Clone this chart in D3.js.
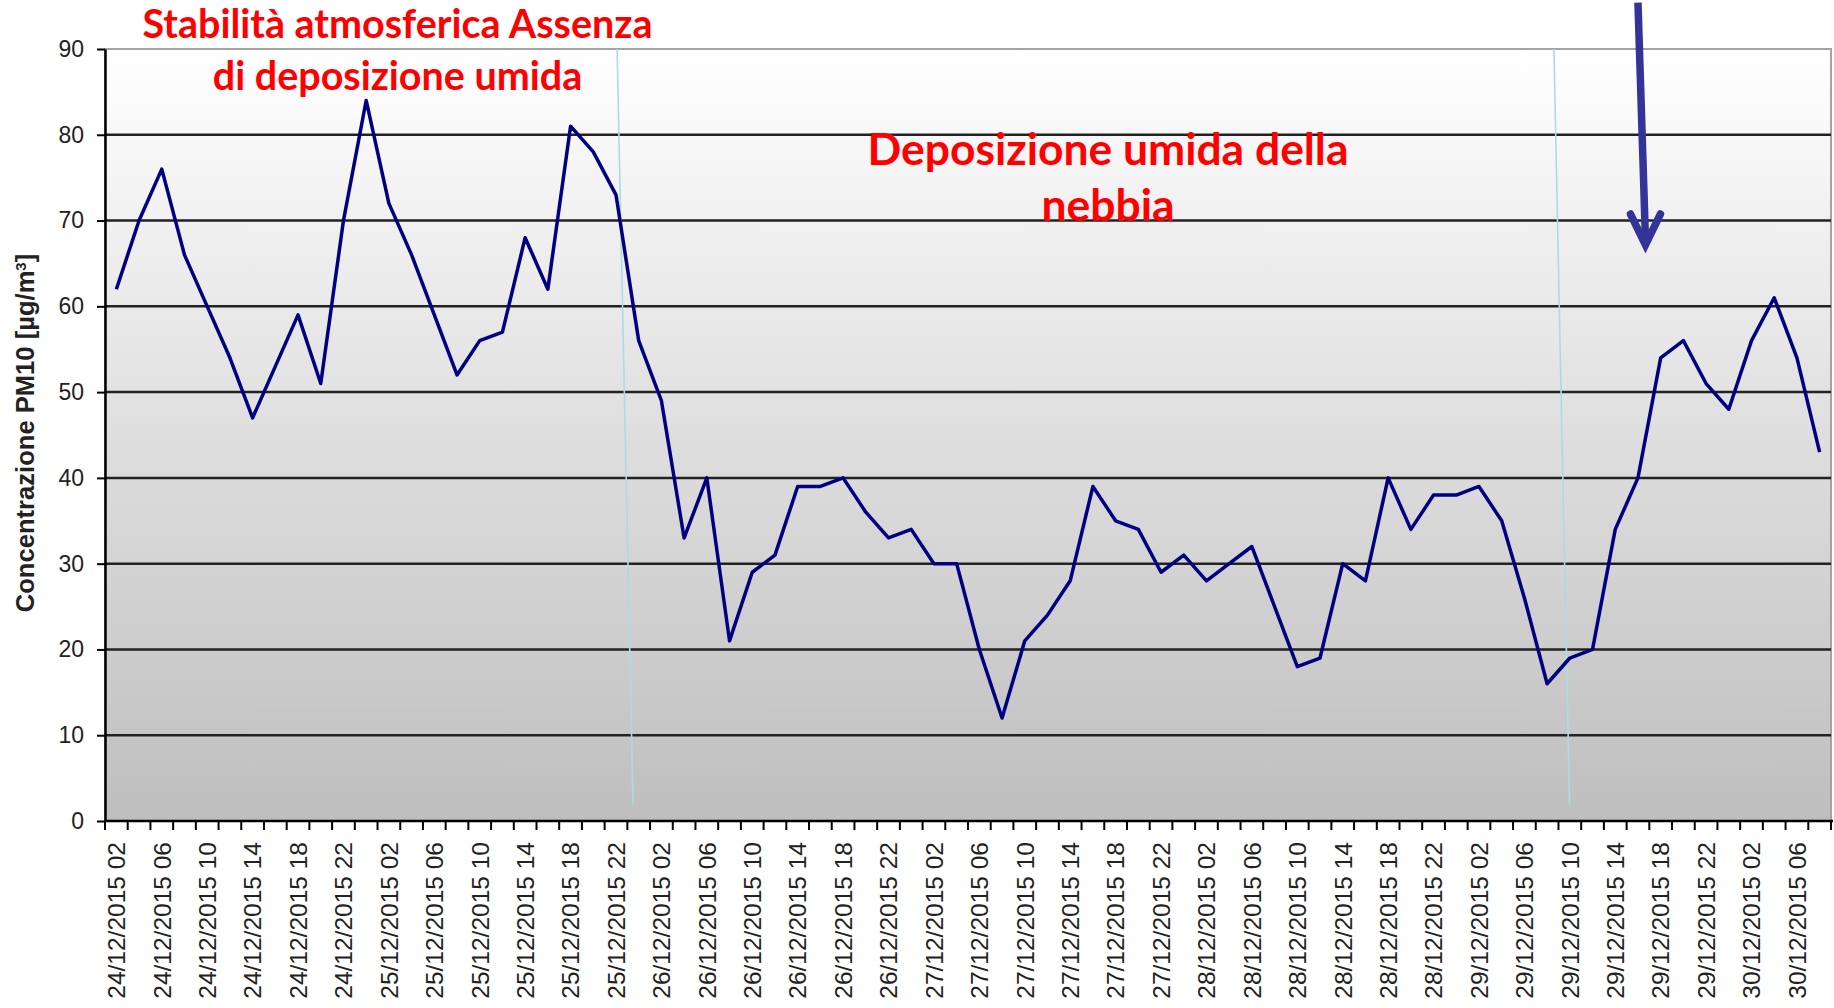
<!DOCTYPE html>
<html>
<head>
<meta charset="utf-8">
<script src="https://cdn.jsdelivr.net/npm/d3@7"></script>
<style>
body { margin: 0; background: #fff; }
</style>
</head>
<body>
<div class="pm10-chart"></div>
<script>
// categories: every 2 hours from 24/12/2015 02 to 30/12/2015 08
const days = ['24/12/2015', '25/12/2015', '26/12/2015', '27/12/2015', '28/12/2015', '29/12/2015', '30/12/2015'];
const hours = ['00', '02', '04', '06', '08', '10', '12', '14', '16', '18', '20', '22'];
const pm10 = [62, 70, 76, 66, 60, 54, 47, 53, 59, 51, 70, 84, 72, 66, 59, 52, 56, 57, 68, 62,
	81, 78, 73, 56, 49, 33, 40, 21, 29, 31, 39, 39, 40, 36, 33, 34, 30, 30, 20, 12,
	21, 24, 28, 39, 35, 34, 29, 31, 28, 30, 32, 25, 18, 19, 30, 28, 40, 34, 38, 38,
	39, 35, 26, 16, 19, 20, 34, 40, 54, 56, 51, 48, 56, 61, 54, 43];
const yTicks = [0, 10, 20, 30, 40, 50, 60, 70, 80, 90];
const noteStable = ['Stabilità atmosferica Assenza', 'di deposizione umida'];
const noteFog = ['Deposizione umida della', 'nebbia'];

const categories = days.flatMap(d => hours.map(h => d + ' ' + h)).slice(1, 1 + pm10.length);

const width = 1834;
const height = 1008;
const plotLeft = 105, plotRight = 1831, plotTop = 49, plotBottom = 821;

const svg = d3.select('.pm10-chart')
	.append('svg')
	.attr('width', width)
	.attr('height', height);

const x = d3.scaleBand().domain(categories).range([plotLeft, plotRight]);
const xi = d3.scaleLinear().domain([0, categories.length]).range([plotLeft, plotRight]);
const y = d3.scaleLinear().domain([0, 90]).range([plotBottom, plotTop]);

const grad = svg.append('defs').append('linearGradient')
	.attr('id', 'plotbg')
	.attr('x1', 0).attr('y1', 0).attr('x2', 0).attr('y2', 1);
grad.append('stop').attr('offset', '0%').attr('stop-color', '#ffffff');
grad.append('stop').attr('offset', '100%').attr('stop-color', '#bebebe');

svg.append('rect')
	.attr('x', plotLeft)
	.attr('y', plotTop)
	.attr('width', plotRight - plotLeft)
	.attr('height', plotBottom - plotTop)
	.attr('fill', 'url(#plotbg)')
	.attr('stroke', '#a3a3a3')
	.attr('stroke-width', 2);

// horizontal gridlines
svg.selectAll('line.grid')
	.data(yTicks.filter(v => v > 0 && v < 90))
	.enter()
	.append('line')
	.attr('class', 'grid')
	.attr('x1', plotLeft)
	.attr('x2', plotRight)
	.attr('y1', d => y(d))
	.attr('y2', d => y(d))
	.attr('stroke', '#222')
	.attr('stroke-width', 2.5);

// fog period dividers (light cyan, slightly slanted)
const dividers = [
	{ top: 22.55, bottom: 23.25 },
	{ top: 63.8, bottom: 64.49 }
];
svg.selectAll('line.divider')
	.data(dividers)
	.enter()
	.append('line')
	.attr('class', 'divider')
	.attr('x1', d => xi(d.top))
	.attr('y1', y(90))
	.attr('x2', d => xi(d.bottom))
	.attr('y2', y(1.9))
	.attr('stroke', '#a9dde2')
	.attr('stroke-width', 1.6);

// y axis
const yAxis = svg.append('g')
	.attr('transform', `translate(${plotLeft},0)`)
	.call(d3.axisLeft(y).tickValues(yTicks).tickSize(8).tickSizeOuter(0).tickPadding(13));
yAxis.select('.domain').attr('stroke', '#000').attr('stroke-width', 2.5);
yAxis.selectAll('.tick line').attr('stroke', '#000').attr('stroke-width', 2);
yAxis.selectAll('.tick text')
	.attr('font-family', '"Liberation Sans", Arial, sans-serif')
	.attr('font-size', 23)
	.attr('fill', '#222');

// x axis line + ticks at category boundaries
svg.append('line')
	.attr('x1', plotLeft)
	.attr('x2', plotRight + 2)
	.attr('y1', plotBottom)
	.attr('y2', plotBottom)
	.attr('stroke', '#000')
	.attr('stroke-width', 2.5);

svg.selectAll('line.xtick')
	.data(categories.map(c => x(c)).concat([plotRight]))
	.enter()
	.append('line')
	.attr('class', 'xtick')
	.attr('x1', d => d)
	.attr('x2', d => d)
	.attr('y1', plotBottom)
	.attr('y2', plotBottom + 9)
	.attr('stroke', '#000')
	.attr('stroke-width', 2);

svg.selectAll('text.xlabel')
	.data(categories.filter((c, i) => i % 2 === 0))
	.enter()
	.append('text')
	.attr('class', 'xlabel')
	.attr('transform', d => `translate(${x(d) + x.bandwidth() / 2},842) rotate(-90)`)
	.attr('dy', '0.36em')
	.attr('text-anchor', 'end')
	.attr('font-family', '"Liberation Sans", Arial, sans-serif')
	.attr('font-size', 24.5)
	.attr('fill', '#222')
	.text(d => d);

// PM10 line
const line = d3.line()
	.x((d, i) => x(categories[i]) + x.bandwidth() / 2)
	.y(d => y(d));

svg.append('path')
	.datum(pm10)
	.attr('d', line)
	.attr('fill', 'none')
	.attr('stroke', '#000080')
	.attr('stroke-width', 3.5)
	.attr('stroke-linejoin', 'round');

// y axis title
const yTitle = svg.append('text')
	.attr('transform', 'translate(34,433) rotate(-90)')
	.attr('text-anchor', 'middle')
	.attr('font-family', '"Liberation Sans", Arial, sans-serif')
	.attr('font-weight', 'bold')
	.attr('font-size', 22)
	.attr('fill', '#222');
yTitle.append('tspan').text('Concentrazione PM10 [µg/m');
yTitle.append('tspan').attr('baseline-shift', 'super').attr('font-size', 15).text('3');
yTitle.append('tspan').text(']');
const ytw = yTitle.node().getComputedTextLength();
yTitle.attr('font-size', 22 * 360 / ytw);

// red annotations, font size fitted to the first line width
function drawNote(lines, cx, baselines, targetWidth) {
	const g = svg.append('g');
	const texts = g.selectAll('text')
		.data(lines)
		.enter()
		.append('text')
		.attr('x', cx)
		.attr('y', (d, i) => baselines[i])
		.attr('text-anchor', 'middle')
		.attr('font-family', 'Lato, "Open Sans", sans-serif')
		.attr('font-weight', 'bold')
		.attr('font-size', 36)
		.attr('fill', '#ff0000')
		.text(d => d);
	const w = texts.node().getComputedTextLength();
	texts.attr('font-size', 36 * targetWidth / w);
}
drawNote(noteStable, 397.5, [37.5, 89.5], 510);
drawNote(noteFog, 1108, [164.5, 220.5], 481);

// blue arrow pointing down
const arrow = { cat: 67.5, from: 95.4, tipCat: 67.83, to: 67.15 };
const tipX = xi(arrow.tipCat), tipY = y(arrow.to);
svg.append('line')
	.attr('x1', xi(arrow.cat))
	.attr('y1', y(arrow.from))
	.attr('x2', tipX)
	.attr('y2', tipY - 6)
	.attr('stroke', '#333399')
	.attr('stroke-width', 7.5);
svg.append('polyline')
	.attr('points', [[tipX - 15, tipY - 31], [tipX, tipY], [tipX + 15, tipY - 31]].map(p => p.join(',')).join(' '))
	.attr('fill', 'none')
	.attr('stroke', '#333399')
	.attr('stroke-width', 7.5)
	.attr('stroke-linecap', 'round')
	.attr('stroke-linejoin', 'miter');
</script>
</body>
</html>
